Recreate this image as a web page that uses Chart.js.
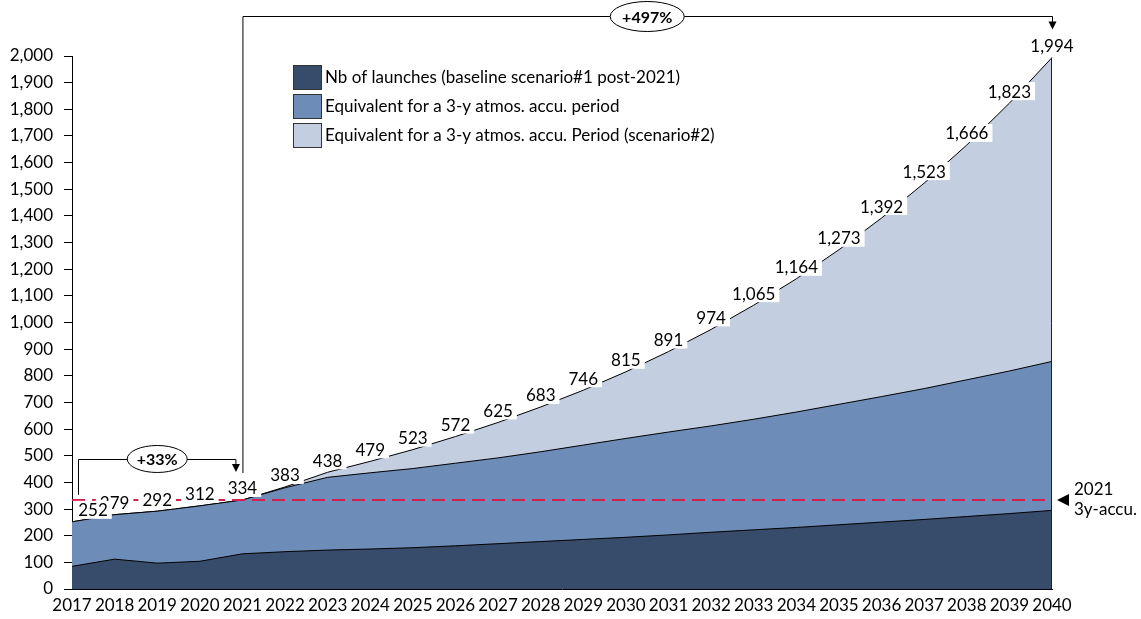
<!doctype html>
<html lang="en">
  <head>
    <meta charset="utf-8">
    <title>Launches and 3-y atmospheric accumulation</title>
    <style>
      body { margin: 0; background: #fff; }
      #wrap { width: 1141px; height: 619px; }
    </style>
  </head>
  <body>
    <div id="wrap"><canvas id="chart" width="1141" height="619"></canvas></div>
  </body>
</html>
<script src="https://cdn.jsdelivr.net/npm/chart.js"></script>
<script>
const years = ['2017','2018','2019','2020','2021','2022','2023','2024','2025','2026','2027','2028',
               '2029','2030','2031','2032','2033','2034','2035','2036','2037','2038','2039','2040'];
// Nb of launches (baseline scenario#1 post-2021)
const launches = [85, 112, 97, 104, 132, 140, 146, 150, 155, 162, 170, 178,
                  186, 194, 203, 213, 222, 231, 241, 251, 261, 272, 283, 295];
// equivalent for a 3-y atmos. accu. period
const accu3y = [252, 279, 292, 312, 334, 380, 419, 436, 452, 472, 492, 515,
                540, 565, 589, 612, 637, 664, 693, 722, 752, 785, 818, 854];
// equivalent for a 3-y atmos. accu. period (scenario#2)
const scenario2 = [252, 279, 292, 312, 334, 383, 438, 479, 523, 572, 625, 683,
                   746, 815, 891, 974, 1065, 1164, 1273, 1392, 1523, 1666, 1823, 1994];
const seriesNames = ['Nb of launches (baseline scenario#1 post-2021)',
                     'Equivalent for a 3-y atmos. accu. period',
                     'Equivalent for a 3-y atmos. accu. Period (scenario#2)'];
const refValue = 334;          // 2021 3y-accu. level
const refLabel = ['2021', '3y-accu.'];
const growthShort = '+33%';    // 2017 -> 2021
const growthLong = '+497%';    // 2021 -> 2040

const colors = ['#374b6b', '#6d8cb8', '#c3cee0'];
const FONT = 'Lato, "Open Sans", sans-serif';
const fmt = v => v.toLocaleString('en-US');

function arrowDown(ctx, x, y) {
    ctx.beginPath();
    ctx.moveTo(x, y);
    ctx.lineTo(x - 4, y - 8);
    ctx.lineTo(x + 4, y - 8);
    ctx.closePath();
    ctx.fill();
}

function ellipseLabel(ctx, cx, cy, w, h, text) {
    ctx.beginPath();
    ctx.ellipse(cx, cy, w / 2, h / 2, 0, 0, Math.PI * 2);
    ctx.fillStyle = '#fff';
    ctx.fill();
    ctx.strokeStyle = '#000';
    ctx.lineWidth = 1;
    ctx.stroke();
    ctx.fillStyle = '#000';
    ctx.font = 'bold 16px ' + FONT;
    ctx.textAlign = 'center';
    ctx.textBaseline = 'middle';
    ctx.fillText(text, cx, cy + 1);
}

const extras = {
    id: 'extras',
    afterDatasetsDraw(chart) {
        const { ctx, chartArea: { left, right, top, bottom }, scales: { x, y } } = chart;
        ctx.save();

        // right edge of the areas
        ctx.strokeStyle = '#222';
        ctx.lineWidth = 1;
        ctx.beginPath();
        ctx.moveTo(x.getPixelForValue(years.length - 1) - 0.5, y.getPixelForValue(scenario2[scenario2.length - 1]));
        ctx.lineTo(x.getPixelForValue(years.length - 1) - 0.5, bottom);
        ctx.stroke();

        // dashed reference line
        const yRef = y.getPixelForValue(refValue);
        ctx.strokeStyle = '#d61f4c';
        ctx.lineWidth = 2;
        ctx.setLineDash([13, 7]);
        ctx.beginPath();
        ctx.moveTo(left, yRef);
        ctx.lineTo(right, yRef);
        ctx.stroke();
        ctx.setLineDash([]);

        // value labels with white boxes, drawn last-to-first
        ctx.font = '17px ' + FONT;
        ctx.textAlign = 'center';
        ctx.textBaseline = 'middle';
        for (let i = scenario2.length - 1; i >= 0; i--) {
            const txt = fmt(scenario2[i]);
            let px = x.getPixelForValue(i);
            const py = y.getPixelForValue(scenario2[i]) - 12;
            if (i === 0) px += 21;
            const w = ctx.measureText(txt).width + 8;
            if (i !== scenario2.length - 1) {
                ctx.fillStyle = '#fff';
                ctx.fillRect(px - w / 2, py - 9, w, 18);
            }
            ctx.fillStyle = '#000';
            ctx.fillText(txt, px, py + 1);
        }

        // brackets
        ctx.strokeStyle = '#000';
        ctx.fillStyle = '#000';
        ctx.lineWidth = 1;
        const x17 = x.getPixelForValue(0), x21 = x.getPixelForValue(4), x40 = x.getPixelForValue(years.length - 1);
        const p17 = y.getPixelForValue(scenario2[0]);
        const p21 = y.getPixelForValue(scenario2[4]);
        const p40 = y.getPixelForValue(scenario2[years.length - 1]);

        // small bracket 2017 -> 2021
        const yS = p21 - 41;
        ctx.beginPath();
        ctx.moveTo(x17 + 6.5, p17 - 27);
        ctx.lineTo(x17 + 6.5, yS + 0.5);
        ctx.lineTo(x21 - 6.5, yS + 0.5);
        ctx.lineTo(x21 - 6.5, p21 - 34);
        ctx.stroke();
        arrowDown(ctx, x21 - 6.5, p21 - 28);
        ellipseLabel(ctx, (x17 + x21) / 2, yS, 60, 27, growthShort);

        // big bracket 2021 -> 2040
        const yB = 16.5;
        ctx.strokeStyle = '#000';
        ctx.fillStyle = '#000';
        ctx.beginPath();
        ctx.moveTo(x21 + 0.5, p21 - 27);
        ctx.lineTo(x21 + 0.5, yB);
        ctx.lineTo(x40 + 0.5, yB);
        ctx.lineTo(x40 + 0.5, p40 - 34);
        ctx.stroke();
        arrowDown(ctx, x40 + 0.5, p40 - 28);
        ellipseLabel(ctx, (x21 + x40) / 2, yB, 74, 30, growthLong);

        // legend
        ctx.font = '17px ' + FONT;
        ctx.textAlign = 'left';
        ctx.textBaseline = 'middle';
        seriesNames.forEach((name, i) => {
            const ry = 77 + i * 29;
            ctx.fillStyle = colors[i];
            ctx.fillRect(294, ry - 11, 27, 23);
            ctx.strokeStyle = '#333';
            ctx.strokeRect(293.5, ry - 11.5, 28, 24);
            ctx.fillStyle = '#000';
            ctx.fillText(name, 325, ry + 1);
        });

        // right-side reference marker
        ctx.fillStyle = '#000';
        ctx.beginPath();
        ctx.moveTo(right + 5, yRef);
        ctx.lineTo(right + 17, yRef - 6);
        ctx.lineTo(right + 17, yRef + 6);
        ctx.closePath();
        ctx.fill();
        ctx.font = '17px ' + FONT;
        ctx.fillText(refLabel[0], right + 22, yRef - 10);
        ctx.fillText(refLabel[1], right + 22, yRef + 10);

        ctx.restore();
    }
};

const base = { borderColor: '#000', borderWidth: 1, pointRadius: 0, tension: 0, fill: 'origin' };

new Chart(document.getElementById('chart'), {
    type: 'line',
    data: {
        labels: years,
        datasets: [
            { ...base, label: seriesNames[0], data: launches, backgroundColor: colors[0] },
            { ...base, label: seriesNames[1], data: accu3y, backgroundColor: colors[1] },
            { ...base, label: seriesNames[2], data: scenario2, backgroundColor: colors[2] }
        ]
    },
    options: {
        responsive: false,
        animation: false,
        layout: { padding: { top: 56, right: 89, left: 0, bottom: 0 } },
        plugins: { legend: { display: false }, tooltip: { enabled: false } },
        scales: {
            x: {
                offset: false,
                grid: { drawOnChartArea: false, drawTicks: false },
                border: { color: '#000', width: 1 },
                ticks: { color: '#000', font: { family: FONT, size: 17 }, padding: 6, maxRotation: 0, autoSkip: false },
                afterFit: s => { s.height = 30; }
            },
            y: {
                min: 0, max: 2000,
                grid: { drawOnChartArea: false, tickLength: 8, color: '#000' },
                border: { color: '#000', width: 1 },
                ticks: { stepSize: 100, color: '#000', padding: 11, font: { family: FONT, size: 17 }, callback: v => fmt(v) },
                afterFit: s => { s.width = 72; }
            }
        }
    },
    plugins: [extras]
});
</script>
